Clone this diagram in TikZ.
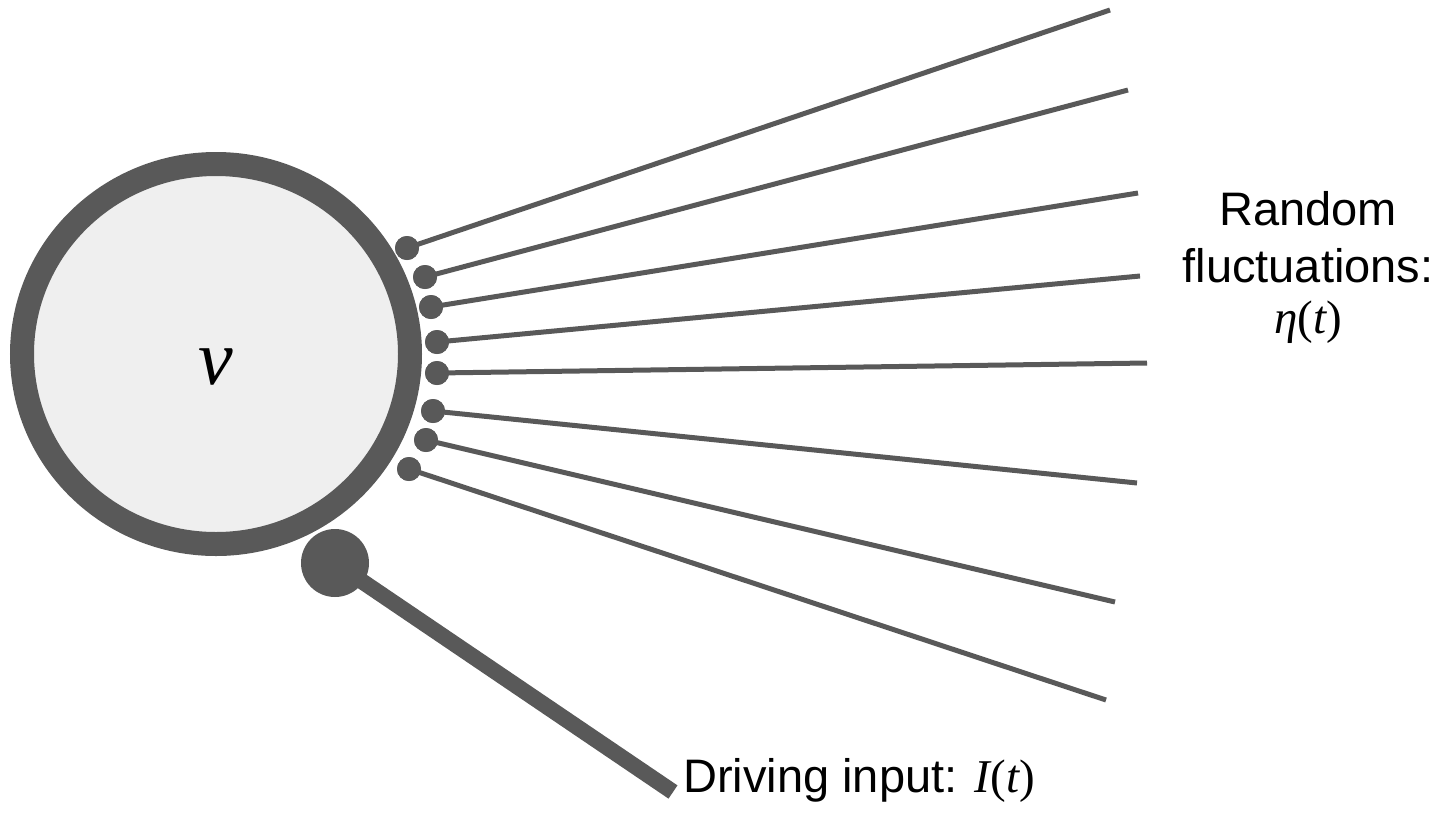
\documentclass[tikz,border=0pt]{standalone}
\usepackage{fontspec}
\usetikzlibrary{shapes.geometric}
\setmainfont{Liberation Sans}
\newfontfamily\tms{Liberation Serif}
\definecolor{dg}{HTML}{595959}
\definecolor{lg}{HTML}{EFEFEF}
\begin{document}
\begin{tikzpicture}[x=1pt,y=-1pt,
  sdot/.style={circle,fill=dg,inner sep=0pt,minimum size=24pt},
  fline/.style={draw=dg,line width=5pt},
  lbl/.style={font=\fontsize{47}{56}\selectfont,inner sep=0pt,anchor=base}]
\useasboundingbox (0,0) rectangle (1454,820);
\coordinate (e1) at (1110,10);
\coordinate (e2) at (1128,90);
\coordinate (e3) at (1138,193);
\coordinate (e4) at (1140,276);
\coordinate (e5) at (1147,363);
\coordinate (e6) at (1137,483);
\coordinate (e7) at (1115,602);
\coordinate (e8) at (1106,700);
\coordinate (e9) at (673,792);
\node[sdot] (d1) at (407,248) {};
\node[sdot] (d2) at (425,277) {};
\node[sdot] (d3) at (431,307) {};
\node[sdot] (d4) at (437,342) {};
\node[sdot] (d5) at (437,373) {};
\node[sdot] (d6) at (433,411) {};
\node[sdot] (d7) at (426,440) {};
\node[sdot] (d8) at (409,469) {};
\foreach \i in {1,...,8} \draw[fline] (d\i.center) -- (e\i);
% neuron
\node[draw=dg,fill=lg,line width=24pt,ellipse,minimum width=388pt,minimum height=380pt,inner sep=0pt] (cell) at (216,354) {};
\node[font=\tms\itshape\fontsize{78}{80}\selectfont,inner sep=0pt] (v) at (216,367) {v};
\foreach \i in {1,...,8} \fill[dg] (d\i) circle (12pt);
% driving input
\node[circle,fill=dg,inner sep=0pt,minimum size=68pt] (big) at (335,563) {};
\draw[dg,line width=16pt] (big.center) -- (e9);
\node[lbl,anchor=base west] (drv) at (683,792) {Driving input: {\tms\itshape I}{\tms (}{\tms\itshape t}{\tms )}};
% random fluctuations
\node[lbl] (r1) at (1308,225) {Random};
\node[lbl] (r2) at (1308,282) {fluctuations:};
\node[lbl] (r3) at (1308,333) {{\tms\itshape η}{\tms (}{\tms\itshape t}{\tms )}};
\end{tikzpicture}
\end{document}
